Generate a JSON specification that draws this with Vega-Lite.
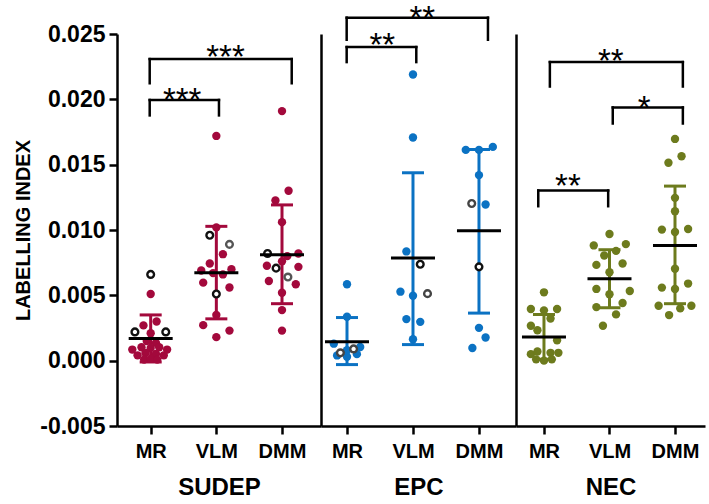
{
  "$schema": "https://vega.github.io/schema/vega-lite/v6.json",
  "padding": {"left": 13, "top": 2, "right": 8, "bottom": 4},
  "spacing": 0,
  "datasets": {
    "points": [
      {"g":"SUDEP","x":1.0,"v":0.0066,"t":"o"},{"g":"SUDEP","x":1.0,"v":0.0051,"t":"f"},{"g":"SUDEP","x":0.76,"v":0.0022,"t":"o"},{"g":"SUDEP","x":1.23,"v":0.0022,"t":"o"},{"g":"SUDEP","x":0.89,"v":0.0027,"t":"f"},{"g":"SUDEP","x":1.09,"v":0.0030,"t":"f"},{"g":"SUDEP","x":1.0,"v":0.0021,"t":"f"},{"g":"SUDEP","x":0.94,"v":0.0015,"t":"f"},{"g":"SUDEP","x":1.08,"v":0.00136,"t":"f"},{"g":"SUDEP","x":0.72,"v":0.00085,"t":"f"},{"g":"SUDEP","x":0.86,"v":0.00103,"t":"f"},{"g":"SUDEP","x":1.0,"v":0.00097,"t":"f"},{"g":"SUDEP","x":1.13,"v":0.00103,"t":"f"},{"g":"SUDEP","x":1.25,"v":0.00085,"t":"f"},{"g":"SUDEP","x":0.8,"v":0.00041,"t":"f"},{"g":"SUDEP","x":0.92,"v":0.00059,"t":"f"},{"g":"SUDEP","x":1.08,"v":0.00051,"t":"f"},{"g":"SUDEP","x":1.2,"v":0.00041,"t":"f"},{"g":"SUDEP","x":0.9,"v":0.00008,"t":"f"},{"g":"SUDEP","x":1.0,"v":0.00015,"t":"f"},{"g":"SUDEP","x":1.1,"v":0.00008,"t":"f"},
      {"g":"SUDEP","x":2.0,"v":0.0172,"t":"f"},{"g":"SUDEP","x":2.0,"v":0.0102,"t":"f"},{"g":"SUDEP","x":1.9,"v":0.0096,"t":"o"},{"g":"SUDEP","x":2.2,"v":0.0089,"t":"og"},{"g":"SUDEP","x":2.1,"v":0.00815,"t":"f"},{"g":"SUDEP","x":1.9,"v":0.00744,"t":"f"},{"g":"SUDEP","x":1.77,"v":0.0069,"t":"f"},{"g":"SUDEP","x":2.23,"v":0.0070,"t":"f"},{"g":"SUDEP","x":2.1,"v":0.0066,"t":"f"},{"g":"SUDEP","x":1.95,"v":0.0067,"t":"f"},{"g":"SUDEP","x":1.8,"v":0.00597,"t":"f"},{"g":"SUDEP","x":2.2,"v":0.0056,"t":"f"},{"g":"SUDEP","x":2.0,"v":0.0051,"t":"o"},{"g":"SUDEP","x":2.0,"v":0.0035,"t":"f"},{"g":"SUDEP","x":1.8,"v":0.00272,"t":"f"},{"g":"SUDEP","x":2.2,"v":0.0023,"t":"f"},{"g":"SUDEP","x":2.0,"v":0.0018,"t":"f"},
      {"g":"SUDEP","x":3.0,"v":0.0191,"t":"f"},{"g":"SUDEP","x":3.1,"v":0.0130,"t":"f"},{"g":"SUDEP","x":2.9,"v":0.01226,"t":"f"},{"g":"SUDEP","x":3.0,"v":0.0106,"t":"f"},{"g":"SUDEP","x":2.78,"v":0.0082,"t":"o"},{"g":"SUDEP","x":3.25,"v":0.0082,"t":"f"},{"g":"SUDEP","x":3.08,"v":0.0080,"t":"f"},{"g":"SUDEP","x":3.0,"v":0.0076,"t":"f"},{"g":"SUDEP","x":2.77,"v":0.00726,"t":"f"},{"g":"SUDEP","x":2.91,"v":0.00708,"t":"o"},{"g":"SUDEP","x":3.25,"v":0.00718,"t":"f"},{"g":"SUDEP","x":3.09,"v":0.0064,"t":"og"},{"g":"SUDEP","x":2.8,"v":0.0061,"t":"f"},{"g":"SUDEP","x":3.21,"v":0.00585,"t":"f"},{"g":"SUDEP","x":3.0,"v":0.0052,"t":"f"},{"g":"SUDEP","x":3.0,"v":0.00387,"t":"f"},{"g":"SUDEP","x":3.0,"v":0.0023,"t":"f"},
      {"g":"EPC","x":1.0,"v":0.00585,"t":"f"},{"g":"EPC","x":1.0,"v":0.00336,"t":"f"},{"g":"EPC","x":0.8,"v":0.0013,"t":"f"},{"g":"EPC","x":1.2,"v":0.00105,"t":"f"},{"g":"EPC","x":0.85,"v":0.0004,"t":"f"},{"g":"EPC","x":1.0,"v":0.0003,"t":"f"},{"g":"EPC","x":1.15,"v":0.0005,"t":"f"},{"g":"EPC","x":1.0,"v":0.0008,"t":"f"},{"g":"EPC","x":0.9,"v":0.0006,"t":"og"},{"g":"EPC","x":1.1,"v":0.0009,"t":"og"},
      {"g":"EPC","x":2.0,"v":0.0219,"t":"f"},{"g":"EPC","x":2.0,"v":0.01708,"t":"f"},{"g":"EPC","x":1.9,"v":0.00836,"t":"f"},{"g":"EPC","x":2.11,"v":0.00738,"t":"o"},{"g":"EPC","x":1.81,"v":0.00528,"t":"f"},{"g":"EPC","x":2.0,"v":0.00497,"t":"f"},{"g":"EPC","x":2.22,"v":0.00513,"t":"og"},{"g":"EPC","x":1.9,"v":0.00318,"t":"f"},{"g":"EPC","x":2.11,"v":0.00297,"t":"f"},{"g":"EPC","x":2.0,"v":0.00164,"t":"f"},
      {"g":"EPC","x":2.8,"v":0.01613,"t":"f"},{"g":"EPC","x":3.0,"v":0.01613,"t":"f"},{"g":"EPC","x":3.21,"v":0.01636,"t":"f"},{"g":"EPC","x":3.0,"v":0.0142,"t":"f"},{"g":"EPC","x":2.89,"v":0.01203,"t":"og"},{"g":"EPC","x":3.1,"v":0.01195,"t":"f"},{"g":"EPC","x":3.0,"v":0.00718,"t":"o"},{"g":"EPC","x":3.0,"v":0.00251,"t":"f"},{"g":"EPC","x":3.1,"v":0.00177,"t":"f"},{"g":"EPC","x":2.9,"v":0.00097,"t":"f"},
      {"g":"NEC","x":1.0,"v":0.00523,"t":"f"},{"g":"NEC","x":0.8,"v":0.00395,"t":"f"},{"g":"NEC","x":1.0,"v":0.00385,"t":"f"},{"g":"NEC","x":1.2,"v":0.00395,"t":"f"},{"g":"NEC","x":1.1,"v":0.00323,"t":"f"},{"g":"NEC","x":0.8,"v":0.00267,"t":"f"},{"g":"NEC","x":0.9,"v":0.00233,"t":"f"},{"g":"NEC","x":1.2,"v":0.00156,"t":"f"},{"g":"NEC","x":0.8,"v":0.0005,"t":"f"},{"g":"NEC","x":0.9,"v":0.0007,"t":"f"},{"g":"NEC","x":1.1,"v":0.0006,"t":"f"},{"g":"NEC","x":1.22,"v":0.0006,"t":"f"},{"g":"NEC","x":0.88,"v":0.0001,"t":"f"},{"g":"NEC","x":1.0,"v":0.0,"t":"f"},{"g":"NEC","x":1.12,"v":0.0001,"t":"f"},
      {"g":"NEC","x":2.0,"v":0.00969,"t":"f"},{"g":"NEC","x":1.76,"v":0.00882,"t":"f"},{"g":"NEC","x":2.25,"v":0.00892,"t":"f"},{"g":"NEC","x":2.1,"v":0.0084,"t":"f"},{"g":"NEC","x":1.92,"v":0.00805,"t":"f"},{"g":"NEC","x":1.8,"v":0.00733,"t":"f"},{"g":"NEC","x":2.2,"v":0.00744,"t":"f"},{"g":"NEC","x":2.0,"v":0.00677,"t":"f"},{"g":"NEC","x":1.8,"v":0.00549,"t":"f"},{"g":"NEC","x":2.31,"v":0.00533,"t":"f"},{"g":"NEC","x":2.0,"v":0.00508,"t":"f"},{"g":"NEC","x":2.2,"v":0.00441,"t":"f"},{"g":"NEC","x":1.8,"v":0.0041,"t":"f"},{"g":"NEC","x":2.1,"v":0.00354,"t":"f"},{"g":"NEC","x":1.9,"v":0.00267,"t":"f"},
      {"g":"NEC","x":3.0,"v":0.01697,"t":"f"},{"g":"NEC","x":3.1,"v":0.01564,"t":"f"},{"g":"NEC","x":2.9,"v":0.01515,"t":"f"},{"g":"NEC","x":3.0,"v":0.01246,"t":"f"},{"g":"NEC","x":3.0,"v":0.01144,"t":"f"},{"g":"NEC","x":2.8,"v":0.01003,"t":"f"},{"g":"NEC","x":3.0,"v":0.00985,"t":"f"},{"g":"NEC","x":3.2,"v":0.01008,"t":"f"},{"g":"NEC","x":3.0,"v":0.00703,"t":"f"},{"g":"NEC","x":2.8,"v":0.00559,"t":"f"},{"g":"NEC","x":3.0,"v":0.00549,"t":"f"},{"g":"NEC","x":3.2,"v":0.0059,"t":"f"},{"g":"NEC","x":2.75,"v":0.0042,"t":"f"},{"g":"NEC","x":3.08,"v":0.004,"t":"f"},{"g":"NEC","x":3.25,"v":0.0042,"t":"f"},{"g":"NEC","x":2.91,"v":0.00349,"t":"f"}
    ],
    "stats": [
      {"g":"SUDEP","x":1,"mean":0.0017,"lo":-0.0001,"hi":0.0035},
      {"g":"SUDEP","x":2,"mean":0.00672,"lo":0.0032,"hi":0.01028},
      {"g":"SUDEP","x":3,"mean":0.0081,"lo":0.00436,"hi":0.01192},
      {"g":"EPC","x":1,"mean":0.00144,"lo":-0.0003,"hi":0.0033},
      {"g":"EPC","x":2,"mean":0.00785,"lo":0.00123,"hi":0.01438},
      {"g":"EPC","x":3,"mean":0.00995,"lo":0.00364,"hi":0.01616},
      {"g":"NEC","x":1,"mean":0.00182,"lo":0.0001,"hi":0.00354},
      {"g":"NEC","x":2,"mean":0.00626,"lo":0.00405,"hi":0.00849},
      {"g":"NEC","x":3,"mean":0.00882,"lo":0.00436,"hi":0.01336}
    ],
    "brackets": [
      {"g":"SUDEP","xa":0.985,"xb":3.148,"y":0.02308,"yb":0.02123,"tx":2.14,"ty":0.02438,"label":"***"},
      {"g":"SUDEP","xa":0.985,"xb":2.04,"y":0.01995,"yb":0.01877,"tx":1.48,"ty":0.02113,"label":"***"},
      {"g":"EPC","xa":0.995,"xb":3.136,"y":0.02625,"yb":0.02456,"tx":2.14,"ty":0.02738,"label":"**"},
      {"g":"EPC","xa":0.995,"xb":2.05,"y":0.0240,"yb":0.02285,"tx":1.535,"ty":0.02528,"label":"**"},
      {"g":"NEC","xa":1.09,"xb":3.12,"y":0.02285,"yb":0.02098,"tx":2.02,"ty":0.02405,"label":"**"},
      {"g":"NEC","xa":2.05,"xb":3.12,"y":0.01938,"yb":0.01815,"tx":2.53,"ty":0.02052,"label":"*"},
      {"g":"NEC","xa":0.913,"xb":1.98,"y":0.01302,"yb":0.01182,"tx":1.366,"ty":0.01452,"label":"**"}
    ]
  },
  "config": {
    "view": {"stroke": null},
    "axis": {
      "labelFont": "Liberation Sans", "titleFont": "Liberation Sans",
      "labelFontWeight": "bold", "titleFontWeight": "bold",
      "labelColor": "black", "titleColor": "black",
      "domainColor": "black", "tickColor": "black",
      "domainWidth": 2.5, "tickWidth": 2.5, "grid": false
    }
  },
  "hconcat": [
    {
      "width": 204, "height": 392,
      "layer": [
        {"data": {"name": "stats"}, "transform": [{"filter": "datum.g=='SUDEP'"}],
         "mark": {"type": "rule", "color": "#a3093c", "strokeWidth": 3},
         "encoding": {
           "x": {"field": "x", "type": "quantitative", "scale": {"domain": [0.487, 3.594], "nice": false, "zero": false},
                 "axis": {"values": [1, 2, 3], "labelExpr": "datum.value == 1 ? 'MR' : datum.value == 2 ? 'VLM' : 'DMM'", "labelFontSize": 20, "tickSize": 8, "labelPadding": 7, "title": "SUDEP", "titleFontSize": 24, "titlePadding": 14}},
           "y": {"field": "lo", "type": "quantitative", "scale": {"domain": [-0.005, 0.025], "nice": false, "zero": false},
                 "axis": {"values": [-0.005, 0, 0.005, 0.01, 0.015, 0.02, 0.025], "labelExpr": "replace(format(datum.value, '.3f'), '\u2212', '-')", "labelFontSize": 23, "tickSize": 8, "labelPadding": 4, "title": "LABELLING INDEX", "titleFontSize": 20, "titlePadding": 6}},
           "y2": {"field": "hi"}
         }},
        {"data": {"name": "stats"}, "transform": [{"filter": "datum.g=='SUDEP'"}],
         "mark": {"type": "tick", "orient": "horizontal", "color": "#a3093c", "size": 22, "thickness": 3, "opacity": 1},
         "encoding": {"x": {"field": "x", "type": "quantitative"}, "y": {"field": "lo", "type": "quantitative"}}},
        {"data": {"name": "stats"}, "transform": [{"filter": "datum.g=='SUDEP'"}],
         "mark": {"type": "tick", "orient": "horizontal", "color": "#a3093c", "size": 22, "thickness": 3, "opacity": 1},
         "encoding": {"x": {"field": "x", "type": "quantitative"}, "y": {"field": "hi", "type": "quantitative"}}},
        {"data": {"name": "points"}, "transform": [{"filter": "datum.g=='SUDEP' && datum.t=='f'"}],
         "mark": {"type": "circle", "color": "#a3093c", "size": 70, "opacity": 1},
         "encoding": {"x": {"field": "x", "type": "quantitative"}, "y": {"field": "v", "type": "quantitative"}}},
        {"data": {"name": "points"}, "transform": [{"filter": "datum.g=='SUDEP' && datum.t!='f'"}],
         "mark": {"type": "point", "shape": "circle", "filled": true, "fill": "white", "size": 45, "strokeWidth": 2.4, "opacity": 1},
         "encoding": {"x": {"field": "x", "type": "quantitative"}, "y": {"field": "v", "type": "quantitative"},
                      "stroke": {"condition": {"test": "datum.t=='og'", "value": "#555555"}, "value": "#111111"}}},
        {"data": {"name": "stats"}, "transform": [{"filter": "datum.g=='SUDEP'"}],
         "mark": {"type": "tick", "orient": "horizontal", "color": "black", "size": 44, "thickness": 3, "opacity": 1},
         "encoding": {"x": {"field": "x", "type": "quantitative"}, "y": {"field": "mean", "type": "quantitative"}}},
        {"data": {"name": "brackets"}, "transform": [{"filter": "datum.g=='SUDEP'"}],
         "mark": {"type": "rule", "color": "black", "strokeWidth": 2.5, "strokeCap": "square"},
         "encoding": {"x": {"field": "xa", "type": "quantitative"}, "x2": {"field": "xb"}, "y": {"field": "y", "type": "quantitative"}}},
        {"data": {"name": "brackets"}, "transform": [{"filter": "datum.g=='SUDEP'"}],
         "mark": {"type": "rule", "color": "black", "strokeWidth": 2.5, "strokeCap": "square"},
         "encoding": {"x": {"field": "xa", "type": "quantitative"}, "y": {"field": "y", "type": "quantitative"}, "y2": {"field": "yb"}}},
        {"data": {"name": "brackets"}, "transform": [{"filter": "datum.g=='SUDEP'"}],
         "mark": {"type": "rule", "color": "black", "strokeWidth": 2.5, "strokeCap": "square"},
         "encoding": {"x": {"field": "xb", "type": "quantitative"}, "y": {"field": "y", "type": "quantitative"}, "y2": {"field": "yb"}}},
        {"data": {"name": "brackets"}, "transform": [{"filter": "datum.g=='SUDEP'"}],
         "mark": {"type": "text", "font": "Liberation Sans", "fontSize": 33, "baseline": "top", "align": "center", "color": "black"},
         "encoding": {"x": {"field": "tx", "type": "quantitative"}, "y": {"field": "ty", "type": "quantitative"}, "text": {"field": "label"}}}
      ]
    },
    {
      "width": 195, "height": 392,
      "layer": [
        {"data": {"name": "stats"}, "transform": [{"filter": "datum.g=='EPC'"}],
         "mark": {"type": "rule", "color": "#0b72c3", "strokeWidth": 3},
         "encoding": {
           "x": {"field": "x", "type": "quantitative", "scale": {"domain": [0.606, 3.561], "nice": false, "zero": false},
                 "axis": {"values": [1, 2, 3], "labelExpr": "datum.value == 1 ? 'MR' : datum.value == 2 ? 'VLM' : 'DMM'", "labelFontSize": 20, "tickSize": 8, "labelPadding": 7, "title": "EPC", "titleFontSize": 24, "titlePadding": 14}},
           "y": {"field": "lo", "type": "quantitative", "scale": {"domain": [-0.005, 0.025], "nice": false, "zero": false},
                 "axis": {"labels": false, "ticks": false, "title": "", "domain": true}},
           "y2": {"field": "hi"}
         }},
        {"data": {"name": "stats"}, "transform": [{"filter": "datum.g=='EPC'"}],
         "mark": {"type": "tick", "orient": "horizontal", "color": "#0b72c3", "size": 22, "thickness": 3, "opacity": 1},
         "encoding": {"x": {"field": "x", "type": "quantitative"}, "y": {"field": "lo", "type": "quantitative"}}},
        {"data": {"name": "stats"}, "transform": [{"filter": "datum.g=='EPC'"}],
         "mark": {"type": "tick", "orient": "horizontal", "color": "#0b72c3", "size": 22, "thickness": 3, "opacity": 1},
         "encoding": {"x": {"field": "x", "type": "quantitative"}, "y": {"field": "hi", "type": "quantitative"}}},
        {"data": {"name": "points"}, "transform": [{"filter": "datum.g=='EPC' && datum.t=='f'"}],
         "mark": {"type": "circle", "color": "#0b72c3", "size": 70, "opacity": 1},
         "encoding": {"x": {"field": "x", "type": "quantitative"}, "y": {"field": "v", "type": "quantitative"}}},
        {"data": {"name": "points"}, "transform": [{"filter": "datum.g=='EPC' && datum.t!='f'"}],
         "mark": {"type": "point", "shape": "circle", "filled": true, "fill": "white", "size": 45, "strokeWidth": 2.4, "opacity": 1},
         "encoding": {"x": {"field": "x", "type": "quantitative"}, "y": {"field": "v", "type": "quantitative"},
                      "stroke": {"condition": {"test": "datum.t=='og'", "value": "#444444"}, "value": "#111111"}}},
        {"data": {"name": "stats"}, "transform": [{"filter": "datum.g=='EPC'"}],
         "mark": {"type": "tick", "orient": "horizontal", "color": "black", "size": 44, "thickness": 3, "opacity": 1},
         "encoding": {"x": {"field": "x", "type": "quantitative"}, "y": {"field": "mean", "type": "quantitative"}}},
        {"data": {"name": "brackets"}, "transform": [{"filter": "datum.g=='EPC'"}],
         "mark": {"type": "rule", "color": "black", "strokeWidth": 2.5, "strokeCap": "square"},
         "encoding": {"x": {"field": "xa", "type": "quantitative"}, "x2": {"field": "xb"}, "y": {"field": "y", "type": "quantitative"}}},
        {"data": {"name": "brackets"}, "transform": [{"filter": "datum.g=='EPC'"}],
         "mark": {"type": "rule", "color": "black", "strokeWidth": 2.5, "strokeCap": "square"},
         "encoding": {"x": {"field": "xa", "type": "quantitative"}, "y": {"field": "y", "type": "quantitative"}, "y2": {"field": "yb"}}},
        {"data": {"name": "brackets"}, "transform": [{"filter": "datum.g=='EPC'"}],
         "mark": {"type": "rule", "color": "black", "strokeWidth": 2.5, "strokeCap": "square"},
         "encoding": {"x": {"field": "xb", "type": "quantitative"}, "y": {"field": "y", "type": "quantitative"}, "y2": {"field": "yb"}}},
        {"data": {"name": "brackets"}, "transform": [{"filter": "datum.g=='EPC'"}],
         "mark": {"type": "text", "font": "Liberation Sans", "fontSize": 33, "baseline": "top", "align": "center", "color": "black"},
         "encoding": {"x": {"field": "tx", "type": "quantitative"}, "y": {"field": "ty", "type": "quantitative"}, "text": {"field": "label"}}}
      ]
    },
    {
      "width": 189, "height": 392,
      "layer": [
        {"data": {"name": "stats"}, "transform": [{"filter": "datum.g=='NEC'"}],
         "mark": {"type": "rule", "color": "#6d7b1d", "strokeWidth": 3},
         "encoding": {
           "x": {"field": "x", "type": "quantitative", "scale": {"domain": [0.573, 3.458], "nice": false, "zero": false},
                 "axis": {"values": [1, 2, 3], "labelExpr": "datum.value == 1 ? 'MR' : datum.value == 2 ? 'VLM' : 'DMM'", "labelFontSize": 20, "tickSize": 8, "labelPadding": 7, "title": "NEC", "titleFontSize": 24, "titlePadding": 14}},
           "y": {"field": "lo", "type": "quantitative", "scale": {"domain": [-0.005, 0.025], "nice": false, "zero": false},
                 "axis": {"labels": false, "ticks": false, "title": "", "domain": true}},
           "y2": {"field": "hi"}
         }},
        {"data": {"name": "stats"}, "transform": [{"filter": "datum.g=='NEC'"}],
         "mark": {"type": "tick", "orient": "horizontal", "color": "#6d7b1d", "size": 22, "thickness": 3, "opacity": 1},
         "encoding": {"x": {"field": "x", "type": "quantitative"}, "y": {"field": "lo", "type": "quantitative"}}},
        {"data": {"name": "stats"}, "transform": [{"filter": "datum.g=='NEC'"}],
         "mark": {"type": "tick", "orient": "horizontal", "color": "#6d7b1d", "size": 22, "thickness": 3, "opacity": 1},
         "encoding": {"x": {"field": "x", "type": "quantitative"}, "y": {"field": "hi", "type": "quantitative"}}},
        {"data": {"name": "points"}, "transform": [{"filter": "datum.g=='NEC' && datum.t=='f'"}],
         "mark": {"type": "circle", "color": "#6d7b1d", "size": 70, "opacity": 1},
         "encoding": {"x": {"field": "x", "type": "quantitative"}, "y": {"field": "v", "type": "quantitative"}}},
        {"data": {"name": "stats"}, "transform": [{"filter": "datum.g=='NEC'"}],
         "mark": {"type": "tick", "orient": "horizontal", "color": "black", "size": 44, "thickness": 3, "opacity": 1},
         "encoding": {"x": {"field": "x", "type": "quantitative"}, "y": {"field": "mean", "type": "quantitative"}}},
        {"data": {"name": "brackets"}, "transform": [{"filter": "datum.g=='NEC'"}],
         "mark": {"type": "rule", "color": "black", "strokeWidth": 2.5, "strokeCap": "square"},
         "encoding": {"x": {"field": "xa", "type": "quantitative"}, "x2": {"field": "xb"}, "y": {"field": "y", "type": "quantitative"}}},
        {"data": {"name": "brackets"}, "transform": [{"filter": "datum.g=='NEC'"}],
         "mark": {"type": "rule", "color": "black", "strokeWidth": 2.5, "strokeCap": "square"},
         "encoding": {"x": {"field": "xa", "type": "quantitative"}, "y": {"field": "y", "type": "quantitative"}, "y2": {"field": "yb"}}},
        {"data": {"name": "brackets"}, "transform": [{"filter": "datum.g=='NEC'"}],
         "mark": {"type": "rule", "color": "black", "strokeWidth": 2.5, "strokeCap": "square"},
         "encoding": {"x": {"field": "xb", "type": "quantitative"}, "y": {"field": "y", "type": "quantitative"}, "y2": {"field": "yb"}}},
        {"data": {"name": "brackets"}, "transform": [{"filter": "datum.g=='NEC'"}],
         "mark": {"type": "text", "font": "Liberation Sans", "fontSize": 33, "baseline": "top", "align": "center", "color": "black"},
         "encoding": {"x": {"field": "tx", "type": "quantitative"}, "y": {"field": "ty", "type": "quantitative"}, "text": {"field": "label"}}}
      ]
    }
  ]
}
